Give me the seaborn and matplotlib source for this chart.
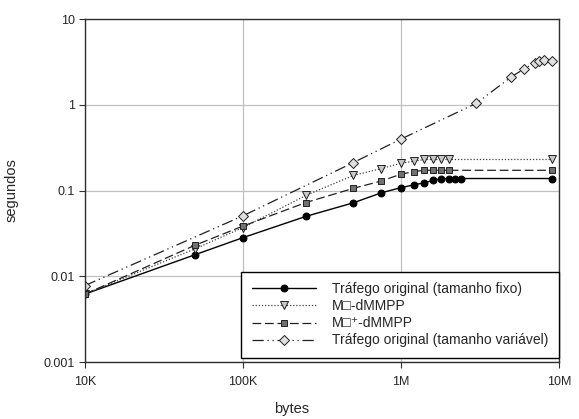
import matplotlib
matplotlib.use("Agg")
import matplotlib.pyplot as plt
import seaborn as sns
import pandas as pd
from matplotlib.ticker import FixedLocator, FixedFormatter, NullLocator

# ---- data ----
x_fixed = [1e4, 5e4, 1e5, 2.5e5, 5e5, 7.5e5, 1e6, 1.2e6, 1.4e6, 1.6e6, 1.8e6, 2e6, 2.2e6, 2.4e6, 9e6]
y_fixed = [0.0062, 0.0179, 0.0282, 0.0499, 0.0719, 0.094, 0.108, 0.116, 0.123, 0.131, 0.137, 0.138, 0.138, 0.138, 0.138]

x_mmpp1 = [1e4, 5e4, 1e5, 2.5e5, 5e5, 7.5e5, 1e6, 1.2e6, 1.4e6, 1.6e6, 1.8e6, 2e6, 9e6]
y_mmpp1 = [0.0062, 0.021, 0.037, 0.0875, 0.15, 0.18, 0.208, 0.219, 0.23, 0.23, 0.23, 0.23, 0.23]

x_mmpp2 = [1e4, 5e4, 1e5, 2.5e5, 5e5, 7.5e5, 1e6, 1.2e6, 1.4e6, 1.6e6, 1.8e6, 2e6, 9e6]
y_mmpp2 = [0.0062, 0.0231, 0.0385, 0.0724, 0.106, 0.129, 0.155, 0.166, 0.172, 0.172, 0.172, 0.172, 0.172]

x_var = [1e4, 1e5, 5e5, 1e6, 3e6, 5e6, 6e6, 7e6, 7.5e6, 8e6, 9e6]
y_var = [0.0078, 0.0507, 0.212, 0.398, 1.04, 2.12, 2.61, 3.09, 3.26, 3.32, 3.26]

labels = ["Tráfego original (tamanho fixo)",
          "M\u25a1-dMMPP",
          "M\u25a1\u207a-dMMPP",
          "Tráfego original (tamanho variável)"]

x_ticks = [1e4, 1e5, 1e6, 1e7]
x_ticklabels = ["10K", "100K", "1M", "10M"]
y_ticks = [0.001, 0.01, 0.1, 1, 10]
y_ticklabels = ["0.001", "0.01", "0.1", "1", "10"]

# ---- plot ----
sns.set_style("white")
plt.rcParams["font.family"] = ["Liberation Sans", "DejaVu Sans"]

fig = plt.figure(figsize=(5.79, 4.19), dpi=100)
ax = fig.add_axes([85/579, 1-362/419, (559-85)/579, (362-19)/419])

series = [
    (x_fixed, y_fixed, dict(color="black", linestyle="-", marker="o", markersize=5,
                            markerfacecolor="black", markeredgecolor="black", linewidth=1.0)),
    (x_mmpp1, y_mmpp1, dict(color="#404040", linestyle=(0, (1, 1.5)), marker="v", markersize=5.5,
                            markerfacecolor="#c8c8c8", markeredgecolor="#202020", linewidth=0.9)),
    (x_mmpp2, y_mmpp2, dict(color="#202020", linestyle=(0, (7, 3)), marker="s", markersize=4.6,
                            markerfacecolor="#707070", markeredgecolor="#202020", linewidth=0.9)),
    (x_var, y_var, dict(color="#202020", linestyle=(0, (9, 3, 1, 3, 1, 3)), marker="D", markersize=4.6,
                        markerfacecolor="#e0e0e0", markeredgecolor="#202020", linewidth=0.9)),
]

for (xs, ys, kw), lab in zip(series, labels):
    df = pd.DataFrame({"bytes": xs, "segundos": ys})
    sns.lineplot(data=df, x="bytes", y="segundos", ax=ax, label=lab,
                 markeredgewidth=0.7, **kw)

ax.set_xscale("log")
ax.set_yscale("log")
ax.set_xlim(1e4, 1e7)
ax.set_ylim(0.001, 10)

ax.xaxis.set_major_locator(FixedLocator(x_ticks))
ax.xaxis.set_major_formatter(FixedFormatter(x_ticklabels))
ax.yaxis.set_major_locator(FixedLocator(y_ticks))
ax.yaxis.set_major_formatter(FixedFormatter(y_ticklabels))
ax.xaxis.set_minor_locator(NullLocator())
ax.yaxis.set_minor_locator(NullLocator())

ax.grid(True, which="major", color="#c0c0c0", linewidth=0.9)
ax.set_axisbelow(True)
for s in ax.spines.values():
    s.set_color("#303030")
    s.set_linewidth(1.0)

ax.tick_params(axis="both", which="major", direction="out", length=4, width=0.8,
               color="#303030", labelsize=9, pad=6, bottom=True, left=True)
ax.tick_params(axis="y", pad=3)

ax.set_xlabel("bytes", fontsize=10.5)
ax.xaxis.set_label_coords((292-85)/(559-85), -(402-362)/(362-19))
ax.set_ylabel("segundos", fontsize=10.5)
ax.yaxis.set_label_coords(-(85-19)/(559-85), (362-190)/(362-19))

leg = ax.legend(loc="lower right", bbox_to_anchor=(1.0, 0.012), fontsize=10,
                frameon=True, fancybox=False, shadow=False, framealpha=1,
                edgecolor="black", handlelength=4.6, handletextpad=1.2,
                labelspacing=0.22, borderpad=0.75, borderaxespad=0.0)
leg.get_frame().set_linewidth(1.0)

fig.savefig("out.png", dpi=100)
